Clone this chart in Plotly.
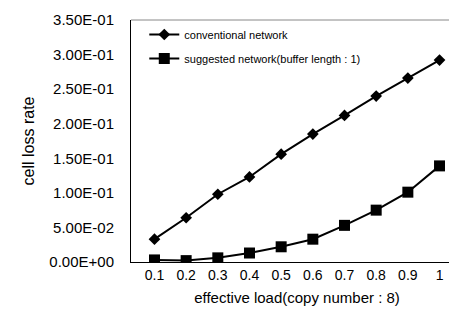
import plotly.graph_objects as go

loads = ["0.1", "0.2", "0.3", "0.4", "0.5", "0.6", "0.7", "0.8", "0.9", "1"]
conventional = [0.033, 0.064, 0.098, 0.123, 0.156, 0.185, 0.212, 0.240, 0.266, 0.292]
suggested = [0.003, 0.002, 0.006, 0.013, 0.022, 0.033, 0.053, 0.075, 0.101, 0.139]
y_tickvals = [0, 0.05, 0.10, 0.15, 0.20, 0.25, 0.30, 0.35]
y_ticktext = ["0.00E+00", "5.00E-02", "1.00E-01", "1.50E-01", "2.00E-01", "2.50E-01", "3.00E-01", "3.50E-01"]

fig = go.Figure()
fig.add_trace(go.Scatter(x=loads, y=conventional, mode="lines+markers",
                         name="conventional network", legendgroup="a",
                         line=dict(color="black", width=2),
                         marker=dict(symbol="diamond", size=9, color="black")))
fig.add_trace(go.Scatter(x=loads, y=suggested, mode="lines+markers",
                         name="suggested network(buffer length : 1)", legendgroup="b",
                         line=dict(color="black", width=2),
                         marker=dict(symbol="square", size=11, color="black")))

fig.update_layout(
    width=457, height=323,
    margin=dict(l=123, r=2, t=12, b=69),
    paper_bgcolor="white", plot_bgcolor="white",
    font=dict(family="Liberation Sans, Arial, sans-serif", color="black", size=13),
    showlegend=True,
    legend=dict(x=0.04, y=1.0, xanchor="left", yanchor="top",
                bgcolor="rgba(0,0,0,0)", font=dict(size=11),
                traceorder="grouped", tracegroupgap=5, itemwidth=30),
    xaxis=dict(type="category", showgrid=False, showline=True, linecolor="black",
               linewidth=1, ticks="", mirror=False,
               title=dict(text="effective load(copy number : 8)", font=dict(size=15), standoff=10),
               tickfont=dict(size=14)),
    yaxis=dict(range=[0, 0.35], tickvals=y_tickvals, ticktext=y_ticktext,
               showgrid=False, showline=True, linecolor="black", linewidth=1,
               ticks="outside", ticklen=13, tickcolor="rgba(0,0,0,0)", zeroline=False,
               title=dict(text="cell loss rate", font=dict(size=16), standoff=10),
               tickfont=dict(size=15)),
)
fig.add_shape(type="line", xref="paper", yref="paper", x0=0, x1=1, y0=1, y1=1,
              line=dict(color="#888888", width=1))
fig.write_html("out.html")
